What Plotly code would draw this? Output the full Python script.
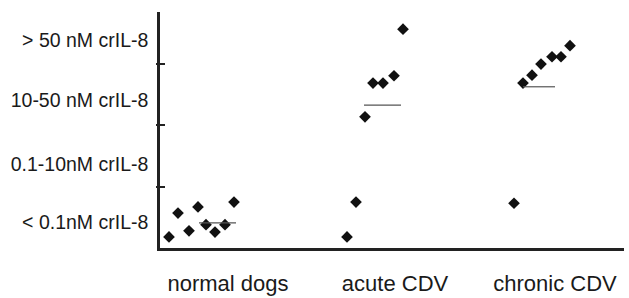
import plotly.graph_objects as go

# Categories and level labels
groups = ["normal dogs", "acute CDV", "chronic CDV"]
group_label_x = [68, 235, 395]
level_labels = ["< 0.1nM crIL-8", "0.1-10nM crIL-8", "10-50 nM crIL-8", "> 50 nM crIL-8"]
level_label_y = [0.42, 1.36, 2.41, 3.39]
level_ticks = [1, 2, 3]

# Individual dogs: horizontal spread position and level score
normal_x = [9, 18, 29, 38, 46, 55, 65, 74]
normal_y = [0.18, 0.57, 0.28, 0.67, 0.38, 0.26, 0.38, 0.75]
acute_x = [187, 196, 205, 213, 223, 234, 243]
acute_y = [0.18, 0.75, 2.14, 2.69, 2.69, 2.81, 3.57]
chronic_x = [354, 363, 372, 381, 392, 401, 410]
chronic_y = [0.73, 2.69, 2.82, 3.00, 3.12, 3.12, 3.30]

# Median bars
median_x0 = [39, 204, 363]
median_x1 = [76, 241, 395]
median_y = [0.41, 2.33, 2.63]

fig = go.Figure()
for xs, ys in [(normal_x, normal_y), (acute_x, acute_y), (chronic_x, chronic_y)]:
    fig.add_trace(go.Scatter(x=xs, y=ys, mode="markers",
                             marker=dict(symbol="diamond", size=9, color="#111111"),
                             showlegend=False, hoverinfo="skip"))
for a, b, m in zip(median_x0, median_x1, median_y):
    fig.add_trace(go.Scatter(x=[a, b], y=[m, m], mode="lines",
                             line=dict(color="#555555", width=1.2),
                             showlegend=False, hoverinfo="skip"))
# dummy traces so the overlay tick axes render
fig.add_trace(go.Scatter(x=[None], y=[None], yaxis="y2", showlegend=False))
fig.add_trace(go.Scatter(x=[None], y=[None], yaxis="y3", showlegend=False))

yr = [0, 3.85]
fig.update_layout(
    width=629, height=298,
    margin=dict(l=160, r=5, t=12, b=50, autoexpand=False),
    paper_bgcolor="white", plot_bgcolor="white",
    font=dict(family="Liberation Sans, Arial, sans-serif", color="#1a1a1a"),
    xaxis=dict(range=[0, 464], showgrid=False, zeroline=False, automargin=False,
               showline=True, linecolor="#222222", linewidth=2.5,
               tickvals=group_label_x, ticktext=groups,
               ticks="outside", ticklen=14, tickcolor="rgba(0,0,0,0)",
               tickfont=dict(size=22)),
    yaxis=dict(range=yr, showgrid=False, zeroline=False, automargin=False,
               showline=True, linecolor="#222222", linewidth=2.5,
               tickvals=level_label_y, ticktext=level_labels,
               ticks="outside", ticklen=5, tickcolor="rgba(0,0,0,0)",
               tickfont=dict(size=19.5)),
    yaxis2=dict(range=yr, overlaying="y", side="left", showgrid=False, automargin=False,
                zeroline=False, showline=False, showticklabels=False,
                tickvals=level_ticks, ticks="inside", ticklen=5,
                tickwidth=1.5, tickcolor="#222222"),
    yaxis3=dict(range=yr, overlaying="y", side="left", showgrid=False, automargin=False,
                zeroline=False, showline=False, showticklabels=False,
                tickvals=level_ticks, ticks="outside", ticklen=3,
                tickwidth=1.5, tickcolor="#222222"),
)
fig.write_html("out.html", config={"displayModeBar": False},
               post_script="document.body.style.margin='0px';")
